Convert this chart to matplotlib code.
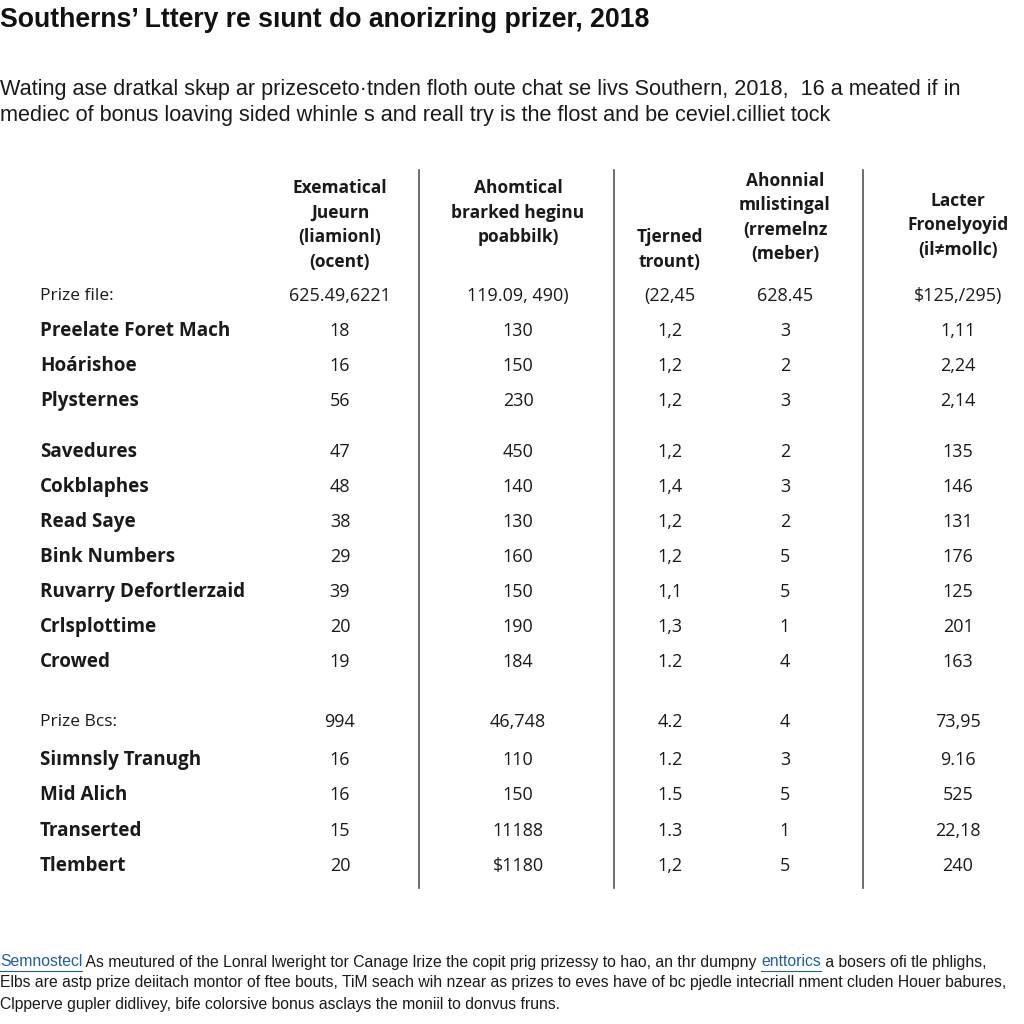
import matplotlib
matplotlib.use("Agg")
import matplotlib.pyplot as plt
from matplotlib.lines import Line2D

# Table content
title = "Southerns\u2019 Lttery re s\u0131unt do anorizring prizer, 2018"
subtitle = ["Wating ase dratkal sk\u0289p ar prizesceto\u00b7tnden floth oute chat se livs Southern, 2018,  16 a meated if in",
            "mediec of bonus loaving sided whinle s and reall try is the flost and be ceviel.cilliet tock"]

headers = [["Exematical", "Jueurn", "(liamionl)", "(ocent)"],
           ["Ahomtical", "brarked heginu", "poabbilk)"],
           ["Tjerned", "trount)"],
           ["Ahonnial", "m\u0131listingal", "(rremelnz", "(meber)"],
           ["Lacter", "Fronelyoyid", "(il\u2260mollc)"]]

group1 = "Prize file:"
group1_vals = ["625.49,6221", "119.09, 490)", "(22,45", "628.45", "$125,/295)"]
group1_rows = ["Preelate Foret Mach", "Hoárishoe", "Plysternes", "Savedures", "Cokblaphes",
               "Read Saye", "Bink Numbers", "Ruvarry Defortlerzaid", "Crlsplottime", "Crowed"]
group1_c1 = ["18", "16", "56", "47", "48", "38", "29", "39", "20", "19"]
group1_c2 = ["130", "150", "230", "450", "140", "130", "160", "150", "190", "184"]
group1_c3 = ["1,2", "1,2", "1,2", "1,2", "1,4", "1,2", "1,2", "1,1", "1,3", "1.2"]
group1_c4 = ["3", "2", "3", "2", "3", "2", "5", "5", "1", "4"]
group1_c5 = ["1,11", "2,24", "2,14", "135", "146", "131", "176", "125", "201", "163"]

group2 = "Prize Bcs:"
group2_vals = ["994", "46,748", "4.2", "4", "73,95"]
group2_rows = ["Siımnsly Tranugh", "Mid Alich", "Transerted", "Tlembert"]
group2_c1 = ["16", "16", "15", "20"]
group2_c2 = ["110", "150", "11188", "$1180"]
group2_c3 = ["1.2", "1.5", "1.3", "1,2"]
group2_c4 = ["3", "5", "1", "5"]
group2_c5 = ["9.16", "525", "22,18", "240"]

footer = [[("Semnostecl", True), (" As meutured of the Lonral lweright tor Canage lrize the copit prig prizessy to hao, an thr dumpny ", False),
           ("enttorics", True), (" a bosers ofi tle phlighs,", False)],
          [("Elbs are astp prize deiitach montor of ftee bouts, TiM seach wih nzear as prizes to eves have of bc pjedle intecriall nment cluden Houer babures,", False)],
          [("Clpperve gupler didlivey, bife colorsive bonus asclays the moniil to donvus fruns.", False)]]

W = H = 1024
fig = plt.figure(figsize=(10.24, 10.24), dpi=100)
fig.patch.set_facecolor("white")


def px(x, y):
    return x / W, 1 - y / H


def txt(x, y, s, **kw):
    kw.setdefault("va", "center")
    kw.setdefault("color", "#1a1a1a")
    return fig.text(*px(x, y), s, **kw)


body_font = "Open Sans"
plain_font = ["Liberation Sans", "DejaVu Sans"]

txt(0, 20, title, fontsize=19.2, fontweight="bold", family=plain_font, color="#111111")
for i, line in enumerate(subtitle):
    txt(0, 89 + i * 27, line, fontsize=15.6, family=plain_font)

# column positions and vertical rules
col_x = [340, 518, 670, 785, 958]
for xv in [419, 614, 863]:
    fig.add_artist(Line2D([xv / W] * 2, [1 - 170 / H, 1 - 888 / H], color="#555555", lw=1.2))

header_tops = [188, 188, 237, 181, 201]
for cx, top, lines in zip(col_x, header_tops, headers):
    for j, s in enumerate(lines):
        txt(cx, top + j * 24.5, s, ha="center", fontsize=12.5, fontweight="bold", family=[body_font, "DejaVu Sans"])

label_x = 40


def draw_row(y, label, vals, bold):
    txt(label_x, y, label, ha="left", fontsize=13.6 if bold else 12.5,
        fontweight="bold" if bold else "normal", family=[body_font, "DejaVu Sans"])
    for cx, v in zip(col_x, vals):
        txt(cx, y, v, ha="center", fontsize=13, family=[body_font, "DejaVu Sans"])


g1_y = [331, 366, 401, 452, 487, 522, 557, 592, 627, 662]
draw_row(296, group1, group1_vals, False)
for i, lab in enumerate(group1_rows):
    draw_row(g1_y[i], lab, [group1_c1[i], group1_c2[i], group1_c3[i], group1_c4[i], group1_c5[i]], True)

g2_y = [760, 795, 831, 866]
draw_row(722, group2, group2_vals, False)
for i, lab in enumerate(group2_rows):
    draw_row(g2_y[i], lab, [group2_c1[i], group2_c2[i], group2_c3[i], group2_c4[i], group2_c5[i]], True)

# footer with link-styled words
fig.canvas.draw()
renderer = fig.canvas.get_renderer()
for i, parts in enumerate(footer):
    x = 0
    y = 962 + i * 21
    for s, link in parts:
        t = txt(x, y, s, ha="left", fontsize=11.3, family=plain_font,
                color="#1f5f9f" if link else "#1a1a1a")
        bb = t.get_window_extent(renderer)
        if link:
            fig.add_artist(Line2D([bb.x0 / W, bb.x1 / W], [(1 - (y + 9) / H)] * 2, color="#1f5f9f", lw=0.8))
        x += bb.width

fig.savefig("out.png", dpi=100, facecolor="white")
